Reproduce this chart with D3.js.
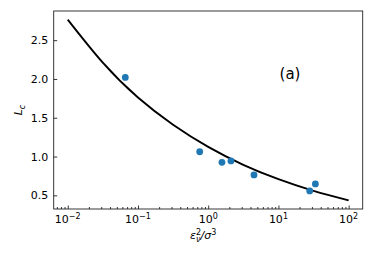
<!DOCTYPE html>
<html>
<head>
<meta charset="utf-8">
<script src="https://cdn.jsdelivr.net/npm/d3@7"></script>
<style>
  body { margin: 0; background: #fff; }
  svg { display: block; font-family: "DejaVu Sans", sans-serif; }
</style>
</head>
<body>
<div id="chart"></div>
<script>

// measured points (scatter)
var pointX = [0.066, 0.757, 1.57, 2.11, 4.49, 27.9, 33.6];
var pointL = [2.02, 1.062, 0.925, 0.943, 0.763, 0.557, 0.647];

// fitted curve at half-decade steps
var curveX = [0.01, 0.0316, 0.1, 0.316, 1, 3.16, 10, 31.6, 100];
var curveL = [2.765, 2.21, 1.76, 1.41, 1.125, 0.894, 0.708, 0.558, 0.436];

var xTicks = [0.01, 0.1, 1, 10, 100];
var xTickExp = ['\u22122', '\u22121', '0', '1', '2'];
var yTicks = [0.5, 1.0, 1.5, 2.0, 2.5];

var width = 374;
var height = 262;
var margin = { left: 53.7, right: 11.3, top: 11, bottom: 53 };

var svg = d3.select('#chart').append('svg')
    .attr('width', width)
    .attr('height', height);

var x = d3.scaleLog()
    .domain([Math.pow(10, -2.2), Math.pow(10, 2.2)])
    .range([margin.left, width - margin.right]);

var y = d3.scaleLinear()
    .domain([0.324, 2.876])
    .range([height - margin.bottom, margin.top]);

var plotBottom = height - margin.bottom;

// clip so the line stays inside the frame
svg.append('clipPath').attr('id', 'plotclip')
    .append('rect')
    .attr('x', margin.left)
    .attr('y', margin.top)
    .attr('width', width - margin.left - margin.right)
    .attr('height', plotBottom - margin.top);

// BEGIN axes (ticks point inward like matplotlib 'in')
var minorTicks = [];
for (var e = -3; e <= 2; e++) {
    for (var m = 2; m <= 9; m++) {
        var v = m * Math.pow(10, e);
        if (v > x.domain()[0] && v < x.domain()[1]) minorTicks.push(v);
    }
}

var xAxis = svg.append('g')
    .attr('transform', 'translate(0,' + plotBottom + ')')
    .call(d3.axisBottom(x).tickValues(xTicks).tickSize(-3.5).tickFormat(''));

xAxis.append('g')
    .call(d3.axisBottom(x).tickValues(minorTicks).tickSize(-2).tickFormat(''));

xAxis.selectAll('.domain').remove();
xAxis.selectAll('line').attr('stroke', '#000').attr('stroke-width', 0.8);

var xLabels = svg.append('g').selectAll('text.xtick')
    .data(xTicks)
    .enter()
    .append('text')
    .attr('class', 'xtick')
    .attr('x', function (d) { return x(d); })
    .attr('y', plotBottom + 14)
    .attr('text-anchor', 'middle')
    .style('font-size', '11px');

xLabels.append('tspan').text('10');
xLabels.append('tspan')
    .attr('dy', -4.5)
    .style('font-size', '8px')
    .text(function (d, i) { return xTickExp[i]; });

var yAxis = svg.append('g')
    .attr('transform', 'translate(' + margin.left + ',0)')
    .call(d3.axisLeft(y).tickValues(yTicks).tickSize(-3.5).tickPadding(5.5)
        .tickFormat(d3.format('.1f')));

yAxis.selectAll('.domain').remove();
yAxis.selectAll('line').attr('stroke', '#000').attr('stroke-width', 0.8);
yAxis.selectAll('text')
    .attr('fill', '#000')
    .style('font-size', '11px')
    .style('font-family', '"DejaVu Sans", sans-serif');

// frame
svg.append('rect')
    .attr('x', margin.left)
    .attr('y', margin.top)
    .attr('width', width - margin.left - margin.right)
    .attr('height', plotBottom - margin.top)
    .attr('fill', 'none')
    .attr('stroke', '#222')
    .attr('stroke-width', 0.9);
// END axes

// fit line
var line = d3.line()
    .x(function (d) { return x(d[0]); })
    .y(function (d) { return y(d[1]); })
    .curve(d3.curveNatural);

svg.append('path')
    .datum(d3.zip(curveX, curveL))
    .attr('clip-path', 'url(#plotclip)')
    .attr('d', line)
    .attr('fill', 'none')
    .attr('stroke', '#000')
    .attr('stroke-width', 1.9);

// scatter points
svg.selectAll('circle.pt')
    .data(d3.zip(pointX, pointL))
    .enter()
    .append('circle')
    .attr('class', 'pt')
    .attr('cx', function (d) { return x(d[0]); })
    .attr('cy', function (d) { return y(d[1]); })
    .attr('r', 3.4)
    .attr('fill', '#1f77b4');

// panel tag
svg.append('text')
    .attr('x', 290)
    .attr('y', 79)
    .attr('text-anchor', 'middle')
    .style('font-size', '15px')
    .text('(a)');

// x label: eps_nu^2 / sigma^3
var xl = svg.append('text')
    .attr('x', 190)
    .attr('y', 239)
    .style('font-size', '11px')
    .style('font-style', 'italic');
xl.append('tspan').text('\u03b5');
xl.append('tspan').attr('dy', -4.5).style('font-size', '8px').style('font-style', 'normal').text('2');
xl.append('tspan').attr('dx', -5).attr('dy', 7.5).style('font-size', '8px').text('\u03bd');
xl.append('tspan').attr('dy', -3).text('/\u03c3');
xl.append('tspan').attr('dy', -4.5).style('font-size', '8px').style('font-style', 'normal').text('3');

// y label: L_c
var yl = svg.append('text')
    .attr('transform', 'translate(22,110) rotate(-90)')
    .attr('text-anchor', 'middle')
    .style('font-size', '11px')
    .style('font-style', 'italic');
yl.append('tspan').text('L');
yl.append('tspan').attr('dy', 2.5).style('font-size', '8px').text('c');

</script>
</body>
</html>
